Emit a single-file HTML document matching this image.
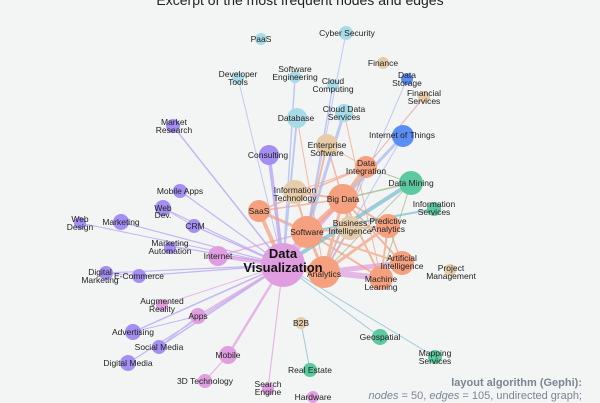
<!DOCTYPE html>
<html><head><meta charset="utf-8"><style>
html,body{margin:0;padding:0;background:#f3f4f4;}
svg{display:block;font-family:"Liberation Sans",Arial,sans-serif;}
.l{font-size:8.5px;fill:#222;text-anchor:middle;}
</style></head><body>
<svg width="600" height="403" viewBox="0 0 600 403" xmlns="http://www.w3.org/2000/svg">
<rect width="600" height="403" fill="#f3f4f4"/>
<text x="300" y="5" font-size="14" fill="#222" text-anchor="middle">Excerpt of the most frequent nodes and edges</text>
<g fill="none" stroke-linecap="round">
<g stroke="#a48ef2" opacity="0.6">
<line x1="283" y1="265" x2="173" y2="126" stroke-width="1.5"/>
<line x1="283" y1="265" x2="180" y2="191" stroke-width="1.2"/>
<line x1="283" y1="265" x2="163" y2="208" stroke-width="1.2"/>
<line x1="283" y1="265" x2="121" y2="222" stroke-width="1.2"/>
<line x1="283" y1="265" x2="80" y2="223" stroke-width="1"/>
<line x1="283" y1="265" x2="194" y2="226" stroke-width="1.5"/>
<line x1="283" y1="265" x2="170" y2="246" stroke-width="1.2"/>
<line x1="283" y1="265" x2="106" y2="273" stroke-width="1.2"/>
<line x1="283" y1="265" x2="139" y2="276" stroke-width="1.2"/>
<line x1="283" y1="265" x2="133" y2="332" stroke-width="1.5"/>
<line x1="283" y1="265" x2="159" y2="347" stroke-width="1.5"/>
<line x1="283" y1="265" x2="128" y2="363" stroke-width="1.2"/>
<line x1="283" y1="265" x2="269" y2="155" stroke-width="3.5"/>
<line x1="106" y1="273" x2="139" y2="276" stroke-width="1"/>
<line x1="133" y1="332" x2="198" y2="316" stroke-width="1"/>
<line x1="159" y1="347" x2="198" y2="316" stroke-width="1"/>
<line x1="194" y1="226" x2="163" y2="208" stroke-width="1"/>
</g>
<g stroke="#e09ee0" opacity="0.7">
<line x1="283" y1="265" x2="218" y2="256" stroke-width="4"/>
<line x1="283" y1="265" x2="162" y2="305" stroke-width="1"/>
<line x1="283" y1="265" x2="198" y2="316" stroke-width="2"/>
<line x1="283" y1="265" x2="228" y2="355" stroke-width="2.5"/>
<line x1="228" y1="355" x2="205" y2="381" stroke-width="1.2"/>
<line x1="283" y1="265" x2="268" y2="389" stroke-width="1.2"/>
<line x1="324" y1="272" x2="381" y2="278" stroke-width="6"/>
<line x1="324" y1="272" x2="402" y2="263" stroke-width="5"/>
<line x1="283" y1="265" x2="307" y2="232" stroke-width="8"/>
<line x1="283" y1="265" x2="343" y2="199" stroke-width="4"/>
<line x1="218" y1="256" x2="307" y2="232" stroke-width="1.5"/>
</g>
<g stroke="#f5a07e" opacity="0.7">
<line x1="283" y1="265" x2="324" y2="272" stroke-width="7"/>
<line x1="283" y1="265" x2="259" y2="211" stroke-width="4"/>
<line x1="307" y1="232" x2="343" y2="199" stroke-width="5"/>
<line x1="307" y1="232" x2="324" y2="272" stroke-width="3"/>
<line x1="307" y1="232" x2="259" y2="211" stroke-width="3"/>
<line x1="343" y1="199" x2="366" y2="167" stroke-width="4"/>
<line x1="343" y1="199" x2="388" y2="226" stroke-width="2"/>
<line x1="343" y1="199" x2="324" y2="272" stroke-width="3"/>
<line x1="343" y1="199" x2="402" y2="263" stroke-width="2"/>
<line x1="343" y1="199" x2="381" y2="278" stroke-width="2"/>
<line x1="324" y1="272" x2="388" y2="226" stroke-width="3"/>
<line x1="307" y1="232" x2="388" y2="226" stroke-width="2"/>
<line x1="307" y1="232" x2="402" y2="263" stroke-width="2"/>
<line x1="307" y1="232" x2="381" y2="278" stroke-width="2"/>
<line x1="366" y1="167" x2="324" y2="272" stroke-width="1.5"/>
<line x1="366" y1="167" x2="259" y2="211" stroke-width="1.5"/>
<line x1="388" y1="226" x2="381" y2="278" stroke-width="2"/>
<line x1="388" y1="226" x2="402" y2="263" stroke-width="1.5"/>
<line x1="259" y1="211" x2="343" y2="199" stroke-width="1.5"/>
<line x1="295" y1="192" x2="366" y2="167" stroke-width="1"/>
<line x1="327" y1="145" x2="307" y2="232" stroke-width="2"/>
<line x1="327" y1="145" x2="343" y2="199" stroke-width="1.5"/>
<line x1="327" y1="145" x2="366" y2="167" stroke-width="1"/>
<line x1="295" y1="192" x2="307" y2="232" stroke-width="2"/>
<line x1="295" y1="192" x2="343" y2="199" stroke-width="2"/>
<line x1="350" y1="228" x2="343" y2="199" stroke-width="2"/>
<line x1="350" y1="228" x2="324" y2="272" stroke-width="2"/>
<line x1="297" y1="118" x2="324" y2="272" stroke-width="1"/>
<line x1="344" y1="113" x2="381" y2="278" stroke-width="1"/>
</g>
<g stroke="#a9b8f0" opacity="0.7">
<line x1="283" y1="265" x2="297" y2="118" stroke-width="2"/>
<line x1="307" y1="232" x2="344" y2="113" stroke-width="3"/>
<line x1="238" y1="78" x2="283" y2="265" stroke-width="1"/>
<line x1="295" y1="77" x2="283" y2="265" stroke-width="1.5"/>
<line x1="346" y1="33" x2="307" y2="232" stroke-width="1"/>
<line x1="407" y1="79" x2="324" y2="272" stroke-width="1"/>
<line x1="333" y1="85" x2="307" y2="232" stroke-width="1.5"/>
<line x1="403" y1="136" x2="343" y2="199" stroke-width="3"/>
<line x1="403" y1="136" x2="324" y2="272" stroke-width="1"/>
</g>
<line x1="424" y1="97" x2="366" y2="167" stroke="#e6b0b0" stroke-width="1"/>
<g stroke="#7fbfcf" opacity="0.75">
<line x1="283" y1="265" x2="411" y2="183" stroke-width="4"/>
<line x1="307" y1="232" x2="434" y2="209" stroke-width="2"/>
<line x1="283" y1="265" x2="380" y2="337" stroke-width="1"/>
<line x1="283" y1="265" x2="435" y2="357" stroke-width="1"/>
<line x1="301" y1="323" x2="310" y2="370" stroke-width="1"/>
</g>
<g stroke="#9fba8a" opacity="0.75">
<line x1="343" y1="199" x2="411" y2="183" stroke-width="1.5"/>
<line x1="366" y1="167" x2="411" y2="183" stroke-width="1"/>
<line x1="411" y1="183" x2="381" y2="278" stroke-width="1"/>
<line x1="411" y1="183" x2="324" y2="272" stroke-width="1"/>
</g>
</g>
<g>
<circle cx="261" cy="39" r="6" fill="#a8dbe8"/>
<circle cx="346" cy="33" r="7" fill="#a8dbe8"/>
<circle cx="383" cy="63" r="6" fill="#e6cca8"/>
<circle cx="407" cy="79" r="6" fill="#5b8ef5"/>
<circle cx="424" cy="97" r="6" fill="#e6cca8"/>
<circle cx="238" cy="78" r="6" fill="#a8dbe8"/>
<circle cx="295" cy="77" r="6" fill="#a8dbe8"/>
<circle cx="333" cy="85" r="6" fill="#a8dbe8"/>
<circle cx="297" cy="118" r="10" fill="#a8dbe8"/>
<circle cx="344" cy="113" r="9" fill="#a8dbe8"/>
<circle cx="403" cy="136" r="11" fill="#5b8ef5"/>
<circle cx="173" cy="126" r="7" fill="#a48ef2"/>
<circle cx="269" cy="155" r="10" fill="#a48ef2"/>
<circle cx="327" cy="145" r="11" fill="#e6cca8"/>
<circle cx="366" cy="167" r="11" fill="#f5a07e"/>
<circle cx="411" cy="183" r="12" fill="#5dc9a0"/>
<circle cx="295" cy="192" r="12" fill="#e6cca8"/>
<circle cx="343" cy="199" r="15" fill="#f5a07e"/>
<circle cx="434" cy="209" r="7" fill="#5dc9a0"/>
<circle cx="180" cy="191" r="7" fill="#a48ef2"/>
<circle cx="163" cy="208" r="8" fill="#a48ef2"/>
<circle cx="259" cy="211" r="11" fill="#f5a07e"/>
<circle cx="307" cy="232" r="16" fill="#f5a07e"/>
<circle cx="350" cy="228" r="12" fill="#e6cca8"/>
<circle cx="388" cy="226" r="12" fill="#f5a07e"/>
<circle cx="121" cy="222" r="8" fill="#a48ef2"/>
<circle cx="80" cy="223" r="6" fill="#a48ef2"/>
<circle cx="194" cy="226" r="7" fill="#a48ef2"/>
<circle cx="170" cy="248" r="6" fill="#a48ef2"/>
<circle cx="218" cy="256" r="10" fill="#e09ee0"/>
<circle cx="283" cy="265" r="22" fill="#e09ee0"/>
<circle cx="324" cy="272" r="16" fill="#f5a07e"/>
<circle cx="402" cy="263" r="12" fill="#f5a07e"/>
<circle cx="381" cy="278" r="12" fill="#f5a07e"/>
<circle cx="450" cy="270" r="6" fill="#e6cca8"/>
<circle cx="106" cy="273" r="7" fill="#a48ef2"/>
<circle cx="139" cy="276" r="7" fill="#a48ef2"/>
<circle cx="162" cy="305" r="6" fill="#e09ee0"/>
<circle cx="198" cy="316" r="8" fill="#e09ee0"/>
<circle cx="301" cy="323" r="6" fill="#e6cca8"/>
<circle cx="380" cy="337" r="8" fill="#5dc9a0"/>
<circle cx="133" cy="332" r="8" fill="#a48ef2"/>
<circle cx="159" cy="347" r="7" fill="#a48ef2"/>
<circle cx="435" cy="357" r="7" fill="#5dc9a0"/>
<circle cx="128" cy="363" r="8" fill="#a48ef2"/>
<circle cx="228" cy="355" r="9" fill="#e09ee0"/>
<circle cx="310" cy="370" r="7" fill="#5dc9a0"/>
<circle cx="205" cy="381" r="7" fill="#e09ee0"/>
<circle cx="268" cy="389" r="6" fill="#e09ee0"/>
<circle cx="313" cy="397" r="6" fill="#e09ee0"/>
</g>
<g class="l">
<text x="261" y="42">PaaS</text>
<text x="347" y="36">Cyber Security</text>
<text x="383" y="66">Finance</text>
<text x="407" y="78">Data</text><text x="407" y="86">Storage</text>
<text x="424" y="96">Financial</text><text x="424" y="104">Services</text>
<text x="238" y="77">Developer</text><text x="238" y="85">Tools</text>
<text x="295" y="72">Software</text><text x="295" y="80">Engineering</text>
<text x="333" y="84">Cloud</text><text x="333" y="92">Computing</text>
<text x="296" y="121">Database</text>
<text x="344" y="112">Cloud Data</text><text x="344" y="120">Services</text>
<text x="402" y="138">Internet of Things</text>
<text x="174" y="125">Market</text><text x="174" y="133">Research</text>
<text x="268" y="158">Consulting</text>
<text x="327" y="148">Enterprise</text><text x="327" y="156">Software</text>
<text x="366" y="166">Data</text><text x="366" y="174">Integration</text>
<text x="411" y="186">Data Mining</text>
<text x="295" y="193">Information</text><text x="295" y="201">Technology</text>
<text x="343" y="202">Big Data</text>
<text x="434" y="207">Information</text><text x="434" y="215">Services</text>
<text x="180" y="194">Mobile Apps</text>
<text x="163" y="211">Web</text><text x="163" y="218">Dev.</text>
<text x="259" y="214">SaaS</text>
<text x="307" y="235">Software</text>
<text x="350" y="226">Business</text><text x="350" y="234">Intelligence</text>
<text x="388" y="224">Predictive</text><text x="388" y="232">Analytics</text>
<text x="121" y="225">Marketing</text>
<text x="80" y="222">Web</text><text x="80" y="230">Design</text>
<text x="195" y="229">CRM</text>
<text x="170" y="246">Marketing</text><text x="170" y="254">Automation</text>
<text x="218" y="259">Internet</text>
<text x="283" y="258" font-size="13" font-weight="bold" fill="#111">Data</text>
<text x="283" y="272" font-size="13" font-weight="bold" fill="#111">Visualization</text>
<text x="324" y="277">Analytics</text>
<text x="402" y="261">Artificial</text><text x="402" y="269">Intelligence</text>
<text x="381" y="282">Machine</text><text x="381" y="290">Learning</text>
<text x="451" y="271">Project</text><text x="451" y="279">Management</text>
<text x="100" y="275">Digital</text><text x="100" y="283">Marketing</text>
<text x="139" y="279">E-Commerce</text>
<text x="162" y="304">Augmented</text><text x="162" y="312">Reality</text>
<text x="198" y="319">Apps</text>
<text x="301" y="326">B2B</text>
<text x="380" y="340">Geospatial</text>
<text x="133" y="335">Advertising</text>
<text x="159" y="350">Social Media</text>
<text x="435" y="356">Mapping</text><text x="435" y="364">Services</text>
<text x="128" y="366">Digital Media</text>
<text x="228" y="358">Mobile</text>
<text x="310" y="373">Real Estate</text>
<text x="205" y="384">3D Technology</text>
<text x="268" y="387">Search</text><text x="268" y="395">Engine</text>
<text x="313" y="400">Hardware</text>
</g>
<text x="582" y="386" font-size="11" font-weight="bold" fill="#7b8594" text-anchor="end">layout algorithm (Gephi):</text>
<text x="582" y="399" font-size="11" fill="#7b8594" text-anchor="end"><tspan font-style="italic">nodes</tspan> = 50, <tspan font-style="italic">edges</tspan> = 105, undirected graph;</text>
</svg>
</body></html>
